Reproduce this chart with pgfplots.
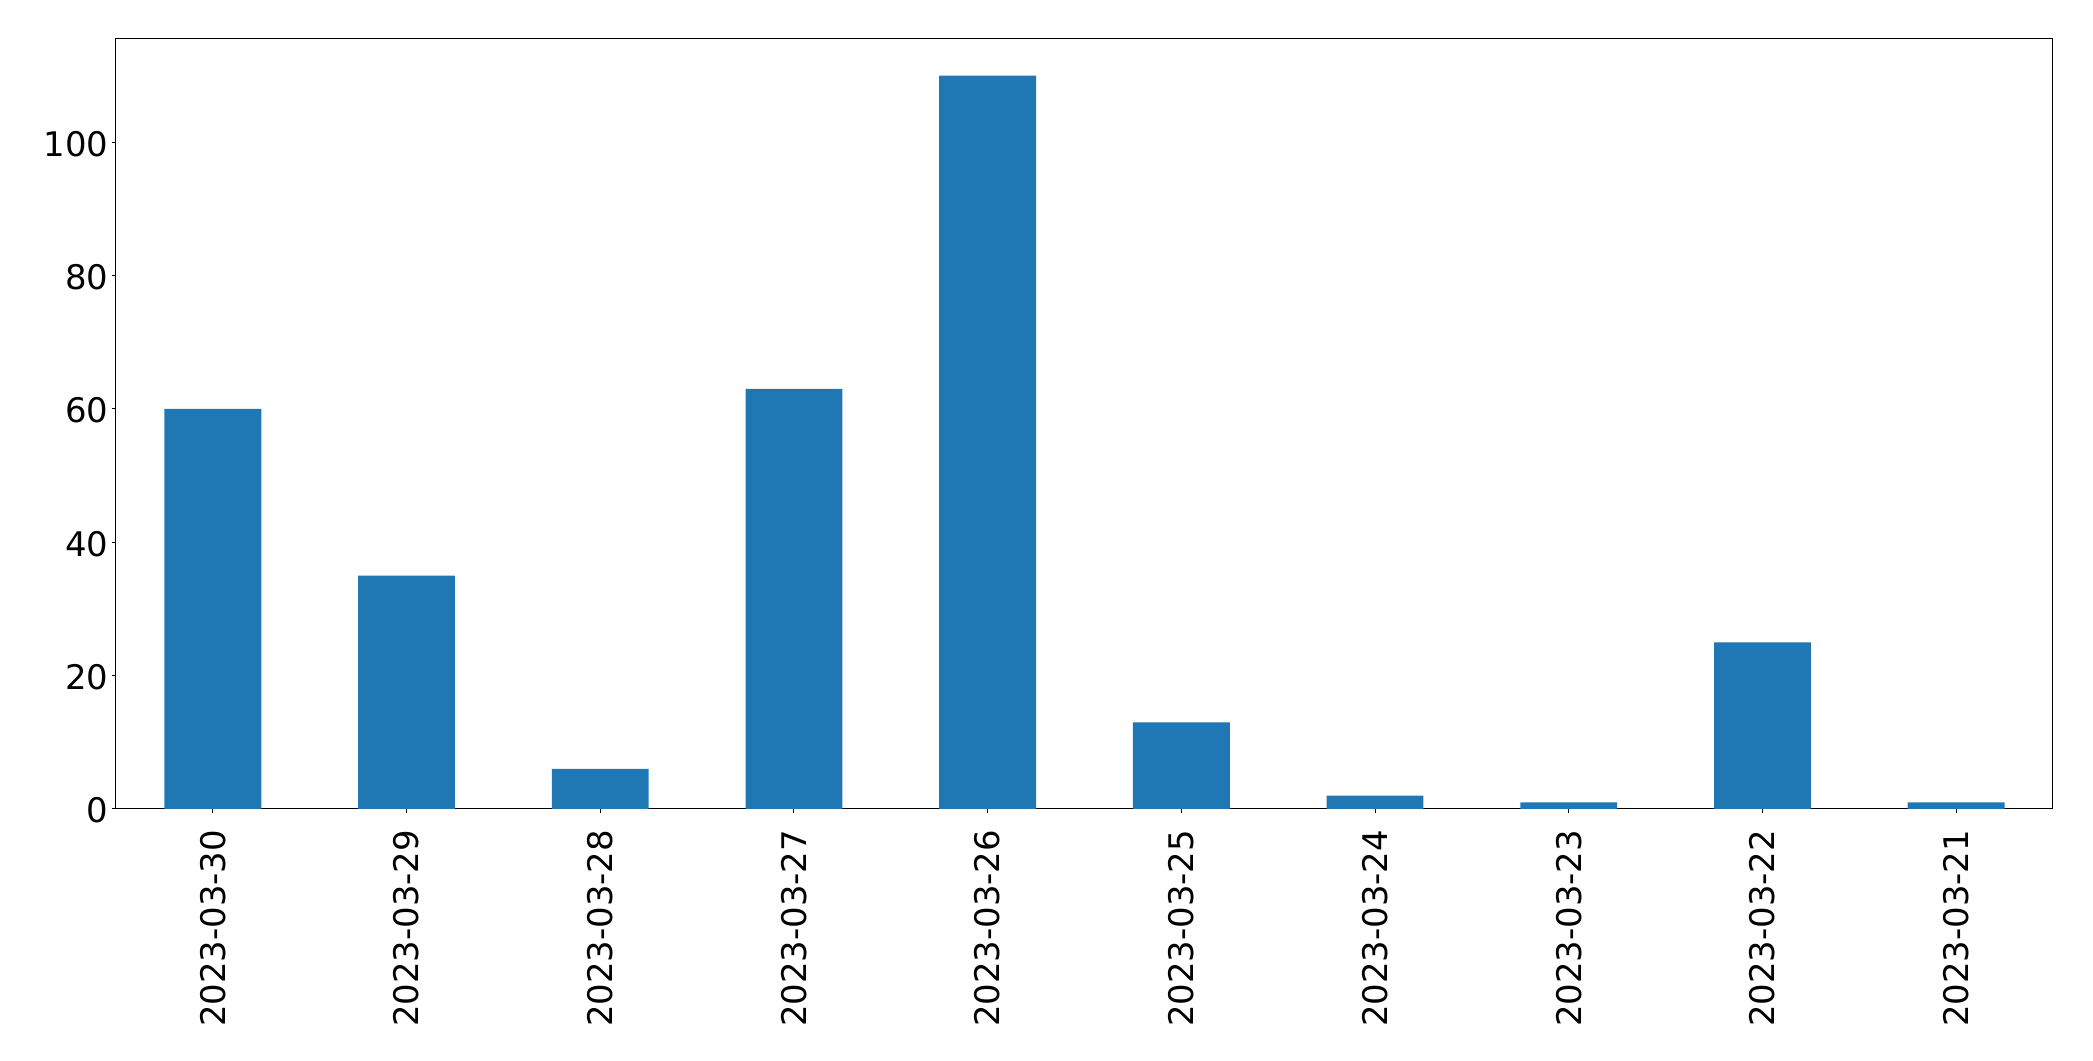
\documentclass[border=0pt]{standalone}
\usepackage{fontspec}
\setmainfont{DejaVu Sans}
\usepackage{pgfplots}
\pgfplotsset{compat=1.18}
\definecolor{tabblue}{HTML}{1F77B4}
\begin{document}
\begin{tikzpicture}
\useasboundingbox (-41.76pt,-90.72pt) rectangle (711.72pt,291.24pt);
\begin{axis}[
  at={(0pt,0pt)}, anchor=south west,
  scale only axis,
  width=697.32pt, height=277.2pt,
  xmin=-0.5, xmax=9.5,
  ymin=0, ymax=115.5,
  xtick={0,1,2,3,4,5,6,7,8,9},
  xticklabels={2023-03-30,2023-03-29,2023-03-28,2023-03-27,2023-03-26,2023-03-25,2023-03-24,2023-03-23,2023-03-22,2023-03-21},
  ytick={0,20,40,60,80,100},
  xtick pos=bottom, ytick pos=left,
  tick align=outside,
  major tick length=1.55pt,
  every tick/.style={black, line width=0.36pt},
  axis line style={line width=0.36pt},
  /pgf/number format/assume math mode=true,
  tick label style={font=\fontsize{12.2}{14}\selectfont, inner sep=0pt},
  xticklabel style={rotate=90, anchor=east},
  xticklabel shift=5.8pt,
  yticklabel shift=1pt,
  yticklabel style={yshift=-0.6pt},
  ybar, bar width=0.5,
]
\addplot[fill=tabblue, draw=none] coordinates {
(0,60) (1,35) (2,6) (3,63) (4,110) (5,13) (6,2) (7,1) (8,25) (9,1)
};
\end{axis}
\end{tikzpicture}
\end{document}
